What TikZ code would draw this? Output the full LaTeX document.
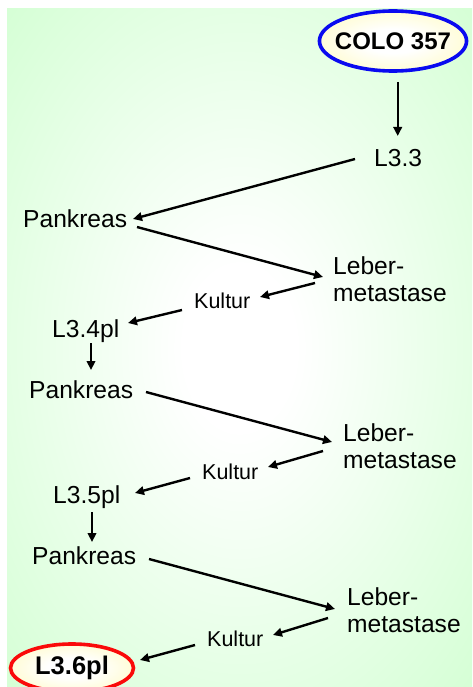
\documentclass[tikz,border=0pt]{standalone}
\usepackage{fontspec}
\setmainfont{Liberation Sans}
\usetikzlibrary{arrows.meta,shapes.geometric}
\definecolor{bggreen}{RGB}{204,255,204}
\definecolor{ellyel}{RGB}{255,248,150}
\definecolor{ringblue}{RGB}{10,10,240}
\definecolor{ringred}{RGB}{250,10,10}
\pgfdeclareradialshading{bgshade}{\pgfpoint{0bp}{0bp}}{color(0bp)=(white); color(6bp)=(white); color(42bp)=(bggreen); color(100bp)=(bggreen)}
\pgfdeclareradialshading{ellshade}{\pgfpoint{0bp}{0bp}}{color(0bp)=(white); color(10bp)=(white); color(50bp)=(ellyel); color(100bp)=(ellyel)}
\tikzset{
  arr/.style={line width=2.4pt, -{Triangle[length=9pt,width=8.5pt]}},
  lbl/.style={inner sep=0pt, anchor=base west, font=\fontsize{24.6}{27}\selectfont},
  smalllbl/.style={inner sep=0pt, anchor=base west, font=\fontsize{21.5}{23}\selectfont},
  multi/.style={inner sep=0pt, anchor=west, align=left, font=\fontsize{24.6}{27}\selectfont},
  oval/.style={ellipse, shading=ellshade, line width=3.6pt, inner xsep=-6pt, inner ysep=0pt}
}
\begin{document}
\begin{tikzpicture}[x=1pt,y=-1pt]
\useasboundingbox (0,0) rectangle (472,687);
\fill[white] (0,0) rectangle (472,687);
\shade[shading=bgshade] (7,9) rectangle (472,687);

\node[oval, draw=ringblue, minimum width=142pt, minimum height=60pt,
      font=\fontsize{24}{26}\selectfont\bfseries] (colo) at (393,41) {COLO 357};
\node[lbl] (l33) at (374,167) {L3.3};
\node[lbl] (p1) at (23,227) {Pankreas};
\node[multi] (lb1) at (333,279) {Leber-\\metastase};
\node[smalllbl] (k1) at (194,308) {Kultur};
\node[lbl] (l34) at (52,337) {L3.4pl};
\node[lbl] (p2) at (29,398) {Pankreas};
\node[multi] (lb2) at (343,446.5) {Leber-\\metastase};
\node[smalllbl] (k2) at (202,479) {Kultur};
\node[lbl] (l35) at (53,503) {L3.5pl};
\node[lbl] (p3) at (32,564) {Pankreas};
\node[multi] (lb3) at (347,610) {Leber-\\metastase};
\node[smalllbl] (k3) at (207,646) {Kultur};
\node[oval, draw=ringred, minimum width=123pt, minimum height=48pt, inner xsep=0pt,
      font=\fontsize{25.5}{28}\selectfont\bfseries] (l36) at (72,668) {L3.6pl};

\draw[arr] ([shift={(4.7,41)}]colo.center) -- ([shift={(23.7,-31)}]l33.base west);
\draw[arr] ([shift={(-19,-8)}]l33.base west) -- ([shift={(110,-8)}]p1.base west);
\draw[arr] ([shift={(114,0)}]p1.base west) -- ([shift={(-10,-2)}]lb1.west);
\draw[arr] ([shift={(-18,4)}]lb1.west) -- ([shift={(66,-11)}]k1.base west);
\draw[arr] ([shift={(-12,2)}]k1.base west) -- ([shift={(76,-14)}]l34.base west);
\draw[arr] ([shift={(39,6)}]l34.base west) -- ([shift={(62,-28)}]p2.base west);
\draw[arr] ([shift={(117,-6)}]p2.base west) -- ([shift={(-11,-4.5)}]lb2.west);
\draw[arr] ([shift={(-20,4.5)}]lb2.west) -- ([shift={(66,-12)}]k2.base west);
\draw[arr] ([shift={(-12,-1)}]k2.base west) -- ([shift={(82,-10)}]l35.base west);
\draw[arr] ([shift={(39,9)}]l35.base west) -- ([shift={(60,-22)}]p3.base west);
\draw[arr] ([shift={(117,-5)}]p3.base west) -- ([shift={(-12,-1)}]lb3.west);
\draw[arr] ([shift={(-19,8)}]lb3.west) -- ([shift={(66,-11)}]k3.base west);
\draw[arr] ([shift={(-12,-1)}]k3.base west) -- ([shift={(68,-8)}]l36.center);
\end{tikzpicture}
\end{document}
